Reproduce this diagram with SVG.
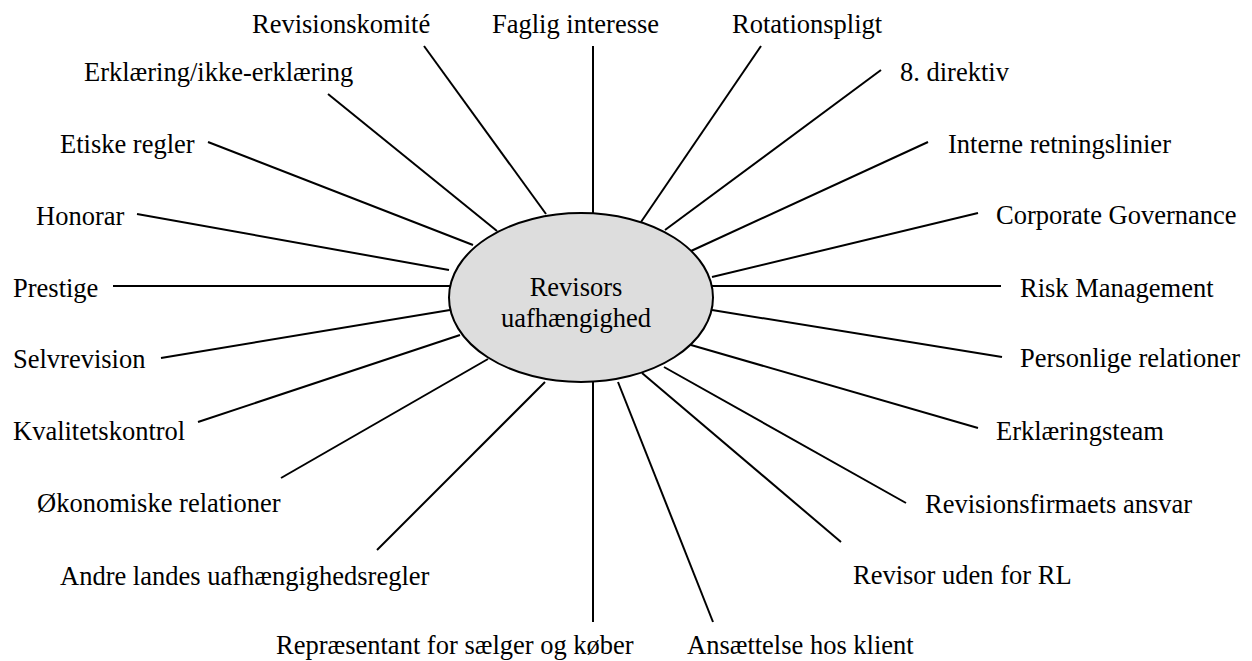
<svg xmlns="http://www.w3.org/2000/svg" width="1252" height="661" viewBox="0 0 1252 661">
<style>
  .lbl { font-family: "Liberation Serif", "Times New Roman", serif; font-size: 26.5px; fill: #000; }
  .conn line { stroke: #000; stroke-width: 2; stroke-linecap: butt; }
  .hub { fill: #dddddd; stroke: #000; stroke-width: 2; }
</style>
<rect width="1252" height="661" fill="#ffffff"/>
<g id="connectors" class="conn">
  <line x1="424" y1="46" x2="546" y2="214"/>
  <line x1="593" y1="46" x2="593" y2="213"/>
  <line x1="761" y1="46" x2="641" y2="222"/>
  <line x1="881" y1="70" x2="665" y2="230"/>
  <line x1="928" y1="142" x2="691" y2="251"/>
  <line x1="978" y1="213" x2="712" y2="277"/>
  <line x1="712" y1="286" x2="1001" y2="286"/>
  <line x1="712" y1="310" x2="1002" y2="357"/>
  <line x1="691" y1="345" x2="978" y2="428"/>
  <line x1="664" y1="367" x2="906" y2="503"/>
  <line x1="642" y1="373" x2="841" y2="542"/>
  <line x1="618" y1="382" x2="713" y2="622"/>
  <line x1="593" y1="381" x2="593" y2="622"/>
  <line x1="545" y1="382" x2="377" y2="550"/>
  <line x1="488" y1="359" x2="281" y2="478"/>
  <line x1="460" y1="335" x2="198" y2="422"/>
  <line x1="450" y1="310" x2="161" y2="358"/>
  <line x1="113" y1="286" x2="450" y2="286"/>
  <line x1="137" y1="214" x2="449" y2="270"/>
  <line x1="208" y1="142" x2="473" y2="245"/>
  <line x1="328" y1="94" x2="497" y2="231"/>
</g>
<g id="hub">
  <ellipse class="hub" cx="581" cy="297.5" rx="132" ry="84.5"/>
  <text class="lbl" x="576" y="296" text-anchor="middle">Revisors</text>
  <text class="lbl" x="576" y="327" text-anchor="middle">uafhængighed</text>
</g>
<g id="n-revisionskomite"><text class="lbl" x="252" y="33">Revisionskomité</text></g>
<g id="n-faglig"><text class="lbl" x="492" y="33">Faglig interesse</text></g>
<g id="n-rotation"><text class="lbl" x="732" y="33">Rotationspligt</text></g>
<g id="n-erklaering"><text class="lbl" x="84" y="81">Erklæring/ikke-erklæring</text></g>
<g id="n-8direktiv"><text class="lbl" x="900" y="81">8. direktiv</text></g>
<g id="n-etiske"><text class="lbl" x="60" y="153">Etiske regler</text></g>
<g id="n-interne"><text class="lbl" x="948" y="153">Interne retningslinier</text></g>
<g id="n-honorar"><text class="lbl" x="36" y="225">Honorar</text></g>
<g id="n-corporate"><text class="lbl" x="996" y="224">Corporate Governance</text></g>
<g id="n-prestige"><text class="lbl" x="13" y="297">Prestige</text></g>
<g id="n-risk"><text class="lbl" x="1020" y="297">Risk Management</text></g>
<g id="n-selvrevision"><text class="lbl" x="13" y="368">Selvrevision</text></g>
<g id="n-personlige"><text class="lbl" x="1020" y="367">Personlige relationer</text></g>
<g id="n-kvalitet"><text class="lbl" x="13" y="440">Kvalitetskontrol</text></g>
<g id="n-erklaeringsteam"><text class="lbl" x="996" y="440">Erklæringsteam</text></g>
<g id="n-okonomiske"><text class="lbl" x="37" y="512">Økonomiske relationer</text></g>
<g id="n-revisionsfirma"><text class="lbl" x="925" y="513">Revisionsfirmaets ansvar</text></g>
<g id="n-andre"><text class="lbl" x="60" y="585">Andre landes uafhængighedsregler</text></g>
<g id="n-revisor-rl"><text class="lbl" x="853" y="584">Revisor uden for RL</text></g>
<g id="n-repraesentant"><text class="lbl" x="276" y="654">Repræsentant for sælger og køber</text></g>
<g id="n-ansaettelse"><text class="lbl" x="687" y="654">Ansættelse hos klient</text></g>
</svg>
